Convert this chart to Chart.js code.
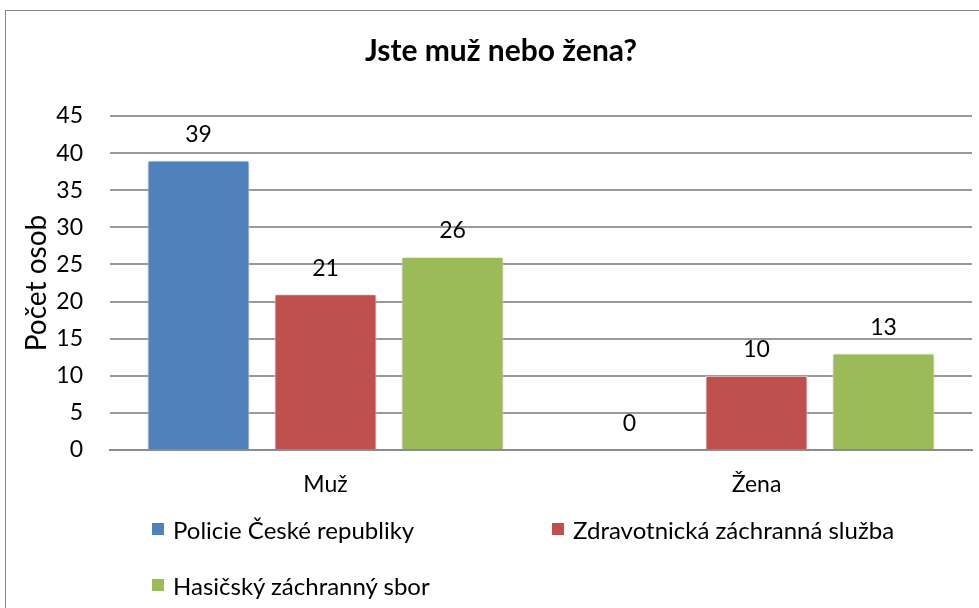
<!DOCTYPE html>
<html>
<head>
<meta charset="utf-8">
<script src="https://cdn.jsdelivr.net/npm/chart.js@4"></script>
<style>
    html, body { margin: 0; padding: 0; width: 979px; height: 608px; overflow: hidden; background: #fff; }
    #frame { position: absolute; left: 5px; top: 10px; width: 1000px; height: 700px; border: 1px solid #868686; box-sizing: border-box; }
    #wrap { position: absolute; left: 0; top: 0; width: 1002px; height: 608px; }
    #legend { position: absolute; left: 0; top: 0; font-family: Lato, sans-serif; font-size: 24px; color: #000; }
    .item { position: absolute; display: flex; align-items: center; height: 30px; white-space: nowrap; }
    .box { width: 12px; height: 12px; margin-right: 9px; }
</style>
</head>
<body>
<div id="frame"></div>
<div id="wrap"><canvas id="genderChart"></canvas></div>
<div id="legend"></div>
<script>
// data
const categories = ['Muž', 'Žena'];
const seriesNames = ['Policie České republiky', 'Zdravotnická záchranná služba', 'Hasičský záchranný sbor'];
const policie = [39, 0];
const zdravotnicka = [21, 10];
const hasici = [26, 13];
const yMax = 45;
const yStep = 5;

const colors = ['#4F81BD', '#C0504D', '#9BBB59'];
const seriesValues = [policie, zdravotnicka, hasici];
const FONT = 'Lato, sans-serif';

// bar shadow + value labels
const barExtras = {
    id: 'barExtras',
    beforeDatasetsDraw(chart) {
        const ctx = chart.ctx;
        ctx.save();
        ctx.shadowColor = 'rgba(0,0,0,0.35)';
        ctx.shadowBlur = 5;
        ctx.shadowOffsetX = 0;
        ctx.shadowOffsetY = 1;
    },
    afterDatasetsDraw(chart) {
        const ctx = chart.ctx;
        ctx.restore();
        ctx.save();
        ctx.font = '23px ' + FONT;
        ctx.fillStyle = '#000';
        ctx.textAlign = 'center';
        ctx.textBaseline = 'middle';
        chart.data.datasets.forEach((ds, i) => {
            chart.getDatasetMeta(i).data.forEach((bar, j) => {
                ctx.fillText(String(ds.data[j]), bar.x, bar.y - 26);
            });
        });
        ctx.restore();
    }
};

const ctx = document.getElementById('genderChart').getContext('2d');
const chart = new Chart(ctx, {
    type: 'bar',
    data: {
        labels: categories,
        datasets: seriesNames.map((name, i) => ({
            label: name,
            data: seriesValues[i],
            backgroundColor: colors[i],
            borderColor: '#ffffff',
            borderWidth: 1,
            categoryPercentage: 0.884,
            barPercentage: 0.803
        }))
    },
    options: {
        responsive: true,
        maintainAspectRatio: false,
        animation: false,
        layout: { padding: { left: 30, right: 30, top: 0, bottom: 108 } },
        plugins: {
            legend: { display: false },
            tooltip: { enabled: false },
            title: {
                display: true,
                text: 'Jste muž nebo žena?',
                color: '#000',
                font: { family: FONT, size: 30, weight: 'bold', lineHeight: 1.2 },
                padding: { top: 33, bottom: 47 }
            }
        },
        scales: {
            x: {
                grid: { display: false, drawTicks: false },
                border: { display: true, color: '#8c8c8c', width: 2 },
                ticks: { color: '#000', font: { family: FONT, size: 23 }, padding: 21 },
                afterFit(scale) { scale.height = 50; }
            },
            y: {
                min: 0,
                max: yMax,
                grid: { color: '#999999', lineWidth: 2, drawTicks: false },
                border: { display: false },
                ticks: { stepSize: yStep, color: '#000', font: { family: FONT, size: 23 }, padding: 27 },
                title: {
                    display: true,
                    text: 'Počet osob',
                    color: '#000',
                    font: { family: FONT, size: 28, lineHeight: 0.5 },
                    padding: 0
                },
                afterFit(scale) { scale.width = 80; }
            }
        }
    },
    plugins: [barExtras]
});

// legend laid out in two columns like the original
const legend = document.getElementById('legend');
const legendPos = [[152, 514], [552, 514], [152, 570]];
seriesNames.forEach((name, i) => {
    const item = document.createElement('div');
    item.className = 'item';
    item.style.left = legendPos[i][0] + 'px';
    item.style.top = legendPos[i][1] + 'px';
    const box = document.createElement('span');
    box.className = 'box';
    box.style.background = colors[i];
    const label = document.createElement('span');
    label.textContent = name;
    item.appendChild(box);
    item.appendChild(label);
    legend.appendChild(item);
});
</script>
</body>
</html>
